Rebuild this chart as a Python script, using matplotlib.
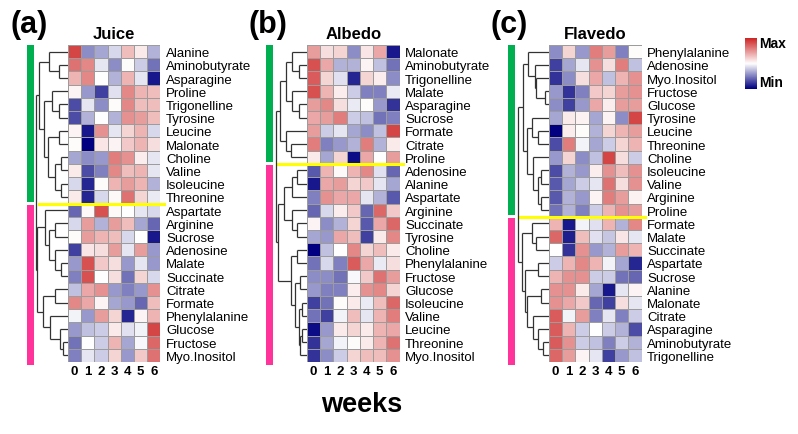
import numpy as np
import matplotlib
matplotlib.use("Agg")
import matplotlib.pyplot as plt
from matplotlib.colors import LinearSegmentedColormap

plt.rcParams['font.family'] = ['Liberation Sans', 'DejaVu Sans']

weeks = ['0', '1', '2', '3', '4', '5', '6']

# ---------------- Juice ----------------
juice_rows = ['Alanine', 'Aminobutyrate', 'Asparagine', 'Proline', 'Trigonelline', 'Tyrosine',
              'Leucine', 'Malonate', 'Choline', 'Valine', 'Isoleucine', 'Threonine',
              'Aspartate', 'Arginine', 'Sucrose', 'Adenosine', 'Malate', 'Succinate',
              'Citrate', 'Formate', 'Phenylalanine', 'Glucose', 'Fructose', 'Myo.Inositol']
juice_vals = [
    [0.85, -0.45, -0.35, -0.15, 0.30, 0.10, -0.30],
    [0.65, 0.55, -0.10, -0.45, 0.02, -0.20, -0.55],
    [0.35, 0.55, 0.00, -0.30, 0.35, -0.10, -0.90],
    [0.05, -0.40, -0.75, -0.12, 0.55, 0.35, 0.30],
    [-0.70, -0.10, -0.45, 0.02, 0.55, 0.30, 0.30],
    [-0.70, -0.30, 0.00, -0.30, 0.50, 0.45, 0.30],
    [0.05, -0.90, 0.50, -0.10, 0.20, 0.35, -0.15],
    [0.02, -1.00, 0.12, 0.05, 0.25, 0.35, 0.15],
    [-0.35, -0.45, -0.40, 0.60, 0.50, 0.08, -0.10],
    [0.10, -0.70, -0.50, 0.55, 0.30, 0.35, -0.10],
    [-0.15, -0.85, 0.02, 0.35, 0.45, 0.35, -0.30],
    [0.10, -0.85, -0.15, 0.03, 0.65, 0.20, -0.08],
    [-0.60, 0.03, 0.80, 0.03, 0.00, -0.10, -0.15],
    [-0.15, 0.45, -0.30, 0.45, 0.30, -0.35, -0.60],
    [0.02, 0.45, 0.35, 0.30, -0.15, 0.00, -0.90],
    [-0.75, 0.12, 0.15, 0.45, -0.10, 0.45, -0.40],
    [-0.40, 0.80, 0.25, 0.15, -0.40, -0.10, -0.40],
    [-0.50, 0.80, 0.00, 0.15, -0.55, 0.20, -0.15],
    [-0.25, 0.40, 0.50, -0.40, -0.50, -0.40, 0.50],
    [0.55, 0.40, 0.05, -0.35, -0.40, -0.60, 0.30],
    [-0.05, -0.40, 0.45, 0.20, -0.85, 0.05, 0.35],
    [-0.40, -0.25, -0.20, 0.10, -0.12, -0.05, 0.85],
    [-0.55, 0.00, -0.20, 0.35, -0.35, -0.03, 0.70],
    [-0.50, -0.10, -0.20, 0.20, -0.40, 0.25, 0.65],
]
juice_green = 12
juice_tree = (((0, (1, 2, 27), 57),
               ((3, (4, 5, 27), 48),
                ((6, 7, 27), ((8, 9, 20), (10, 11, 20), 40), 62), 72), 87),
              ((12, ((13, 14, 40), (15, (16, 17, 20), 40), 57), 70),
               ((18, 19, 40), (20, (21, (22, 23, 15), 25), 55), 75), 94),
              97)

# ---------------- Albedo ----------------
albedo_rows = ['Malonate', 'Aminobutyrate', 'Trigonelline', 'Malate', 'Asparagine', 'Sucrose',
               'Formate', 'Citrate', 'Proline', 'Adenosine', 'Alanine', 'Aspartate',
               'Arginine', 'Succinate', 'Tyrosine', 'Choline', 'Phenylalanine', 'Fructose',
               'Glucose', 'Isoleucine', 'Valine', 'Leucine', 'Threonine', 'Myo.Inositol']
albedo_vals = [
    [0.45, 0.15, 0.20, -0.45, 0.12, 0.40, -0.90],
    [0.80, 0.40, -0.30, -0.30, 0.05, -0.25, -0.55],
    [0.75, 0.20, -0.12, -0.85, 0.20, 0.08, -0.45],
    [0.80, 0.35, 0.08, -0.20, -0.50, -0.50, -0.08],
    [0.45, 0.55, 0.15, -0.08, 0.02, -0.40, -0.80],
    [0.40, 0.45, 0.60, -0.20, -0.25, -0.55, -0.50],
    [0.45, -0.20, -0.10, -0.35, -0.45, -0.25, 0.85],
    [0.60, -0.50, -0.40, -0.30, 0.60, -0.30, 0.10],
    [0.10, -0.35, 0.20, -0.95, 0.40, 0.00, 0.45],
    [-0.65, 0.35, 0.03, 0.35, 0.55, -0.12, -0.60],
    [-0.90, 0.40, 0.45, 0.20, 0.25, -0.10, -0.35],
    [-0.50, 0.50, 0.40, 0.40, -0.10, -0.30, -0.65],
    [-0.60, -0.15, 0.08, 0.25, -0.60, 0.70, 0.25],
    [0.05, -0.45, -0.30, 0.20, -0.65, 0.40, 0.70],
    [-0.35, -0.40, 0.40, 0.30, -0.75, 0.10, 0.55],
    [-1.00, -0.25, 0.00, 0.55, 0.20, 0.30, 0.10],
    [-0.55, -0.15, -0.50, 0.75, 0.40, -0.08, 0.15],
    [-0.45, -0.45, -0.55, -0.03, 0.25, 0.65, 0.45],
    [-0.40, -0.50, -0.50, 0.08, 0.50, 0.55, 0.20],
    [-0.75, -0.55, 0.02, 0.10, -0.08, 0.30, 0.70],
    [-0.55, -0.75, -0.05, 0.30, -0.10, 0.35, 0.60],
    [-0.95, -0.40, 0.10, 0.20, 0.10, 0.35, 0.40],
    [-0.80, -0.35, -0.05, 0.02, 0.10, 0.35, 0.65],
    [-0.80, -0.45, -0.20, 0.20, 0.30, 0.30, 0.50],
]
albedo_green = 9
albedo_tree = ((((0, (1, 2, 25), 45), (3, (4, 5, 25), 45), 65),
                (6, (7, 8, 50), 65), 82),
               ((((9, 10, 30), 11, 45), (12, (13, 14, 30), 45), 70),
                ((15, 16, 30), ((17, 18, 20), ((19, 20, 15), ((21, 22, 15), 23, 20), 25), 35), 50),
                88),
               95)

# ---------------- Flavedo ----------------
flavedo_rows = ['Phenylalanine', 'Adenosine', 'Myo.Inositol', 'Fructose', 'Glucose', 'Tyrosine',
                'Leucine', 'Threonine', 'Choline', 'Isoleucine', 'Valine', 'Arginine', 'Proline',
                'Formate', 'Malate', 'Succinate', 'Aspartate', 'Sucrose', 'Alanine', 'Malonate',
                'Citrate', 'Asparagine', 'Aminobutyrate', 'Trigonelline']
flavedo_vals = [
    [-0.45, 0.20, -0.40, 0.60, 0.45, -0.50, 0.02],
    [-0.75, -0.35, -0.10, 0.50, 0.15, 0.60, -0.25],
    [-0.80, -0.45, 0.15, 0.40, -0.25, 0.35, 0.50],
    [-0.40, -0.80, -0.50, 0.25, 0.20, 0.45, 0.50],
    [-0.45, -0.75, -0.40, 0.40, 0.08, 0.45, 0.45],
    [-0.35, 0.10, 0.06, -0.35, 0.05, -0.45, 0.85],
    [-1.00, 0.08, 0.02, -0.30, 0.20, 0.35, 0.45],
    [-0.70, 0.60, -0.05, -0.35, -0.20, 0.20, 0.35],
    [-0.40, 0.20, -0.45, -0.25, 0.85, 0.15, -0.20],
    [-0.70, -0.30, -0.40, 0.08, 0.50, 0.30, 0.50],
    [-0.65, -0.35, -0.20, -0.10, 0.65, 0.15, 0.50],
    [-0.65, -0.30, -0.40, 0.05, 0.60, 0.45, 0.06],
    [-0.55, -0.30, -0.50, -0.20, 0.35, 0.50, 0.45],
    [0.35, -0.90, -0.05, -0.12, 0.35, -0.30, 0.55],
    [0.70, -0.88, 0.30, -0.12, -0.22, 0.12, -0.10],
    [0.00, -0.80, 0.50, -0.40, -0.30, 0.45, 0.35],
    [-0.20, 0.35, 0.55, 0.35, -0.05, -0.35, -0.85],
    [0.35, 0.50, 0.50, -0.20, -0.20, -0.55, -0.60],
    [0.50, 0.50, 0.10, -0.35, -0.90, -0.10, 0.05],
    [0.50, 0.40, 0.25, -0.60, -0.75, 0.15, -0.10],
    [0.75, -0.05, 0.45, -0.50, -0.10, -0.50, -0.20],
    [0.75, 0.35, -0.20, 0.00, -0.20, -0.30, -0.70],
    [0.75, 0.50, -0.20, -0.25, -0.50, -0.20, -0.30],
    [0.70, 0.45, 0.05, -0.10, -0.75, -0.40, -0.25],
]
flavedo_green = 13
flavedo_tree = (((0, (1, (2, (3, 4, 13), 38), 43), 63),
                 ((5, (6, 7, 33), 53), (8, ((9, 10, 23), (11, 12, 23), 33), 48), 68), 80),
                ((13, (14, 15, 40), 53),
                 ((16, 17, 33), ((18, 19, 23), (20, (21, (22, 23, 18), 33), 48), 68), 73), 83),
                93)

panels = [
    ('(a)', 'Juice', juice_rows, juice_vals, juice_green, juice_tree, 68),
    ('(b)', 'Albedo', albedo_rows, albedo_vals, albedo_green, albedo_tree, 307),
    ('(c)', 'Flavedo', flavedo_rows, flavedo_vals, flavedo_green, flavedo_tree, 549),
]

W, H = 798, 435
fig = plt.figure(figsize=(W / 100, H / 100), dpi=100)


def px_axes(left, top, width, height):
    return fig.add_axes([left / W, 1 - (top + height) / H, width / W, height / H])


cmap = LinearSegmentedColormap.from_list('nwf', ['#000080', '#FFFFFF', '#CD2626'])
GREEN = '#00B050'
PINK = '#FF3399'
TOP, HM_H, HM_W = 46, 317, 92.5


def draw_tree(ax, node):
    if isinstance(node, int):
        return node + 0.5, 0.0
    l, r, h = node
    pl, hl = draw_tree(ax, l)
    pr, hr = draw_tree(ax, r)
    kw = dict(color='#333333', lw=0.9, solid_capstyle='butt')
    ax.plot([hl, h], [pl, pl], **kw)
    ax.plot([hr, h], [pr, pr], **kw)
    ax.plot([h, h], [pl, pr], **kw)
    return (pl + pr) / 2, h


for tag, title, rows, vals, ngreen, tree, hx in panels:
    data = np.array(vals)
    n = len(rows)
    ax = px_axes(hx, TOP, HM_W, HM_H)
    ax.pcolormesh(data, cmap=cmap, vmin=-1, vmax=1, edgecolors='#9c9c9c', linewidth=0.6)
    ax.set_xlim(0, 7)
    ax.set_ylim(n, 0)
    for s in ax.spines.values():
        s.set_visible(False)
    ax.set_xticks(np.arange(7) + 0.5)
    ax.set_xticklabels(weeks, fontsize=9.5, fontweight='bold')
    ax.set_yticks(np.arange(n) + 0.5)
    ax.set_yticklabels(rows, fontsize=9.5)
    ax.yaxis.tick_right()
    ax.tick_params(length=0, pad=2)
    ax.tick_params(axis='y', pad=4)
    ax.set_title(title, fontsize=12, fontweight='bold', pad=5)
    # yellow separator
    ax.plot([-2.2, 7.3], [ngreen, ngreen], color='#FFFF00', lw=2.2, clip_on=False, zorder=5)

    # dendrogram
    dax = px_axes(hx - 33, TOP, 33, HM_H)
    draw_tree(dax, tree)
    dax.set_xlim(100, 0)
    dax.set_ylim(n, 0)
    dax.axis('off')

    # side group bar
    bax = px_axes(hx - 41, TOP, 7, HM_H + 3)
    bax.bar([0], [ngreen - 0.12], bottom=0, width=1, color=GREEN)
    bax.bar([0], [n - ngreen - 0.12 + 0.24], bottom=ngreen + 0.12, width=1, color=PINK)
    bax.set_xlim(-0.5, 0.5)
    bax.set_ylim(n + 0.24, 0)
    bax.axis('off')

    fig.text((hx - 58) / W, 1 - 25 / H, tag, fontsize=22, fontweight='bold', va='center', ha='left')

# colour legend
cax = px_axes(745, 39, 12, 51)
grad = np.linspace(1, -1, 100).reshape(-1, 1)
cax.imshow(grad, cmap=cmap, vmin=-1, vmax=1, aspect='auto')
cax.axis('off')
fig.text(759 / W, 1 - 44 / H, 'Max', fontsize=10, fontweight='bold', va='center', ha='left')
fig.text(759 / W, 1 - 83 / H, 'Min', fontsize=10, fontweight='bold', va='center', ha='left')

fig.text(362 / W, 1 - 405 / H, 'weeks', fontsize=19.5, fontweight='bold', va='center', ha='center')

fig.savefig('out.png', dpi=100)
